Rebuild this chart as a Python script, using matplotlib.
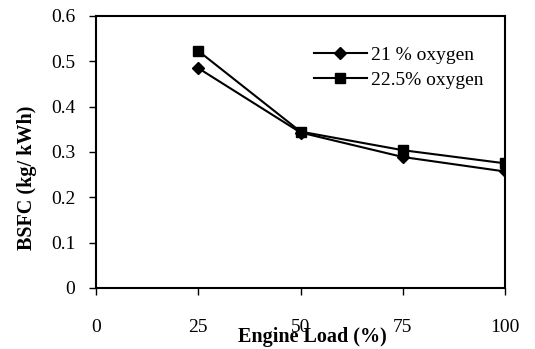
import numpy as np
import matplotlib.pyplot as plt

# Data
load = [25, 50, 75, 100]
bsfc_21 = [0.485, 0.343, 0.289, 0.257]
bsfc_225 = [0.523, 0.345, 0.304, 0.275]
xticks = [0, 25, 50, 75, 100]
yticks = [0, 0.1, 0.2, 0.3, 0.4, 0.5, 0.6]

plt.rcParams['font.family'] = 'Liberation Serif'

fig = plt.figure(figsize=(5.35, 3.49), dpi=100)
ax = fig.add_axes([96/535, 1 - 288/349, (505-96)/535, (288-16)/349])

ax.plot(load, bsfc_21, color='black', lw=1.5, marker='D', ms=6, label='21 % oxygen')
ax.plot(load, bsfc_225, color='black', lw=1.5, marker='s', ms=7.5, label='22.5% oxygen')

ax.set_xlim(0, 100)
ax.set_ylim(0, 0.6)
ax.set_xticks(xticks)
ax.set_yticks(yticks)
ax.set_xticklabels([str(t) for t in xticks])
ax.set_yticklabels(['0'] + [f'{t:.1f}' for t in yticks[1:]])
ax.tick_params(axis='x', direction='out', length=5, width=1, pad=17, labelsize=14)
ax.tick_params(axis='y', direction='out', length=5, width=1, pad=10, labelsize=14)
for s in ax.spines.values():
    s.set_linewidth(1.5)

ax.set_xlabel('Engine Load (%)', fontsize=14.5, fontweight='bold')
ax.xaxis.set_label_coords(0.53, -0.145)
ax.set_ylabel('BSFC (kg/ kWh)', fontsize=14.5, fontweight='bold')
ax.yaxis.set_label_coords(-0.145, 0.405)

ax.legend(loc='upper left', bbox_to_anchor=(0.5, 0.94), frameon=False, fontsize=14,
          handlelength=2.7, handletextpad=0.25, labelspacing=0.4, borderaxespad=0.3)

fig.savefig('out.png', dpi=100)
